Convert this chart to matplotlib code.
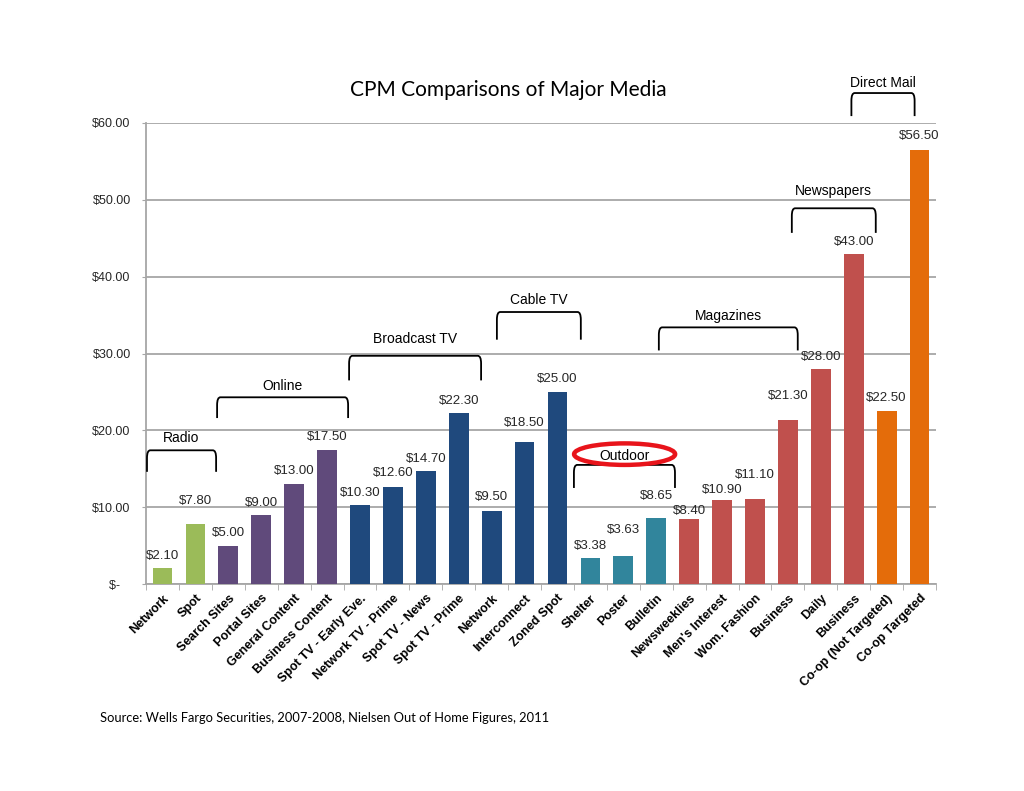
import matplotlib
matplotlib.use("Agg")
import matplotlib.pyplot as plt
from matplotlib.path import Path
from matplotlib.patches import PathPatch, Ellipse

categories = ["Network", "Spot", "Search Sites", "Portal Sites", "General Content",
              "Business Content", "Spot TV - Early Eve.", "Network TV - Prime",
              "Spot TV - News", "Spot TV - Prime", "Network", "Interconnect",
              "Zoned Spot", "Shelter", "Poster", "Bulletin", "Newsweeklies",
              "Men's Interest", "Wom. Fashion", "Business", "Daily", "Business",
              "Co-op (Not Targeted)", "Co-op Targeted"]
values = [2.10, 7.80, 5.00, 9.00, 13.00, 17.50, 10.30, 12.60, 14.70, 22.30, 9.50,
          18.50, 25.00, 3.38, 3.63, 8.65, 8.40, 10.90, 11.10, 21.30, 28.00, 43.00,
          22.50, 56.50]
groups = ["Radio"] * 2 + ["Online"] * 4 + ["Broadcast"] * 4 + ["Cable"] * 3 + \
         ["Outdoor"] * 3 + ["Magazines"] * 4 + ["Newspapers"] * 2 + ["Direct"] * 2
group_colors = {"Radio": "#9BBB59", "Online": "#604A7B", "Broadcast": "#1F497D",
                "Cable": "#1F497D", "Outdoor": "#31859C", "Magazines": "#C0504D",
                "Newspapers": "#C0504D", "Direct": "#E46C0A"}

# vertical gap (pixels) between bar top and centre of its value label
label_gaps = [12, 23, 13, 12, 13, 13, 12, 14, 12, 12, 14, 19, 13, 12, 26, 22, 8, 10,
              24, 24, 12, 12, 13, 14]

# bracket annotations: label, x-left, x-right (category units), top, bottom, label y
brackets = [("Radio", -0.47, 1.63, 17.4, 14.6, 19.0),
            ("Online", 1.66, 5.64, 24.3, 21.6, 25.8),
            ("Broadcast TV", 5.67, 9.68, 29.7, 26.5, 31.9),
            ("Cable TV", 10.16, 12.71, 35.4, 31.8, 37.0),
            ("Outdoor", 12.50, 15.57, 15.5, 12.5, 16.7),
            ("Magazines", 15.08, 19.30, 33.4, 30.4, 34.9),
            ("Newspapers", 19.12, 21.67, 48.9, 45.7, 51.2),
            ("Direct Mail", 20.93, 22.85, 63.9, 60.9, 65.2)]

yticks = [0, 10, 20, 30, 40, 50, 60]
ytick_labels = ["$-   ", "$10.00", "$20.00", "$30.00", "$40.00", "$50.00", "$60.00"]

fig = plt.figure(figsize=(10.24, 7.91), dpi=100)
ax = fig.add_axes([146 / 1024, 1 - 584 / 791, 790 / 1024, 461 / 791])

xs = list(range(len(categories)))
colors = [group_colors[g] for g in groups]
ax.bar(xs, values, width=0.6, color=colors, zorder=3)

for x, v, g in zip(xs, values, label_gaps):
    ax.annotate(f"${v:.2f}", (x, v), xytext=(0, g * 0.72), textcoords="offset points",
                ha="center", va="center", fontsize=9.5, color="#262626",
                family="Liberation Sans", zorder=4)

ax.set_xlim(-0.5, len(categories) - 0.5)
ax.set_ylim(0, 60)
ax.set_yticks(yticks)
ax.set_yticklabels(ytick_labels, fontsize=9, family="Liberation Sans", color="#262626")
ax.yaxis.grid(True, color="#A6A6A6", linewidth=1.3, zorder=0)
ax.set_axisbelow(True)

ax.set_xticks(xs)
ax.set_xticklabels(categories, rotation=45, ha="right", rotation_mode="anchor",
                   fontsize=9, fontweight="bold", family="Liberation Sans")
ax.tick_params(axis="x", length=0, pad=6)
ax.set_xticks([x - 0.5 for x in range(len(categories) + 1)], minor=True)
ax.tick_params(axis="x", which="minor", length=4, color="#A6A6A6", direction="out")
ax.tick_params(axis="y", length=3, pad=8, color="#A6A6A6", direction="out")

for s in ["top", "right"]:
    ax.spines[s].set_visible(False)
for s in ["left", "bottom"]:
    ax.spines[s].set_color("#A6A6A6")
    ax.spines[s].set_linewidth(1.3)


def bracket(x0, x1, top, bot):
    r_x = 0.1
    r_y = 1.0
    verts = [(x0, bot), (x0, top - r_y), (x0, top), (x0 + r_x, top),
             (x1 - r_x, top), (x1, top), (x1, top - r_y), (x1, bot)]
    codes = [Path.MOVETO, Path.LINETO, Path.CURVE3, Path.CURVE3,
             Path.LINETO, Path.CURVE3, Path.CURVE3, Path.LINETO]
    return PathPatch(Path(verts, codes), fill=False, edgecolor="black",
                     linewidth=1.3, clip_on=False, zorder=5)


for label, x0, x1, top, bot, ly in brackets:
    ax.add_patch(bracket(x0, x1, top, bot))
    ax.text((x0 + x1) / 2, ly, label, ha="center", va="center", fontsize=10,
            family="Liberation Sans", clip_on=False, zorder=5)

ax.add_patch(Ellipse((14.04, 16.9), 3.07, 2.8, fill=False, edgecolor="#E8141B",
                     linewidth=3.2, clip_on=False, zorder=6))

fig.text(508 / 1024, 1 - 90 / 791, "CPM Comparisons of Major Media", ha="center",
         va="center", fontsize=15, family="Lato")
fig.text(100 / 1024, 1 - 718 / 791,
         "Source: Wells Fargo Securities, 2007-2008, Nielsen Out of Home Figures, 2011",
         ha="left", va="center", fontsize=9.3, family="Lato")

fig.savefig("out.png", dpi=100)
